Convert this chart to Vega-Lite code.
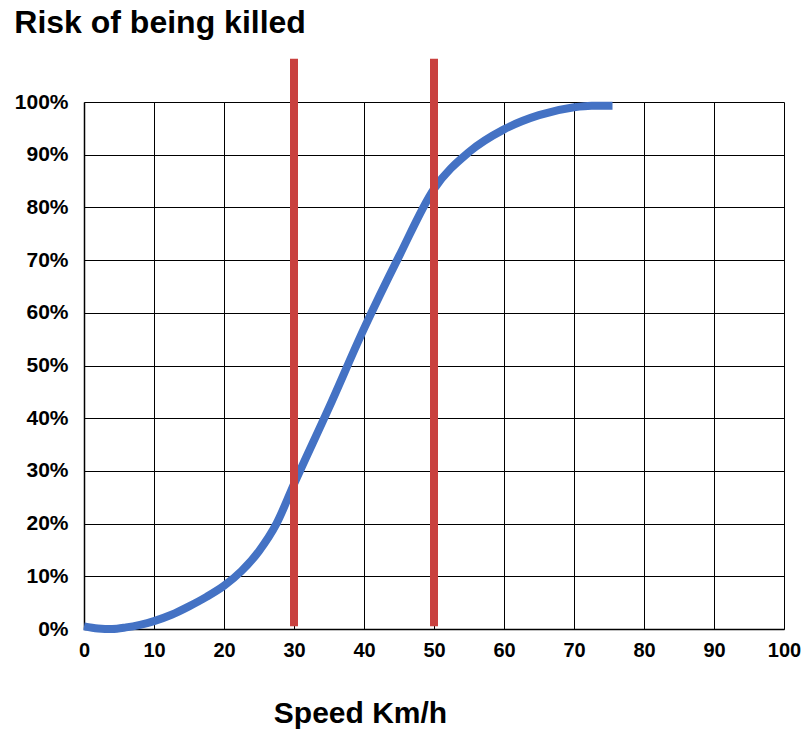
{
  "$schema": "https://vega.github.io/schema/vega-lite/v6.json",
  "width": 700,
  "height": 527,
  "autosize": {"type": "none"},
  "padding": {"left": 84, "top": 102, "right": 22, "bottom": 102},
  "background": "white",
  "title": {
    "text": "Risk of being killed",
    "anchor": "start",
    "frame": "bounds",
    "font": "Liberation Sans",
    "fontSize": 32,
    "fontWeight": "bold",
    "color": "black",
    "offset": 15
  },
  "config": {
    "view": {"stroke": null},
    "axis": {
      "labelFont": "Liberation Sans",
      "labelFontWeight": "bold",
      "labelColor": "black",
      "domainColor": "black",
      "domainWidth": 1.5,
      "gridColor": "black",
      "gridWidth": 1,
      "gridOpacity": 1,
      "ticks": false,
      "titleFont": "Liberation Sans",
      "titleFontWeight": "bold",
      "titleColor": "black"
    }
  },
  "layer": [
    {
      "data": {
        "values": [
          {"speed": 0, "risk": 0.005},
          {"speed": 2, "risk": 0.001},
          {"speed": 4, "risk": 0.0},
          {"speed": 6, "risk": 0.003},
          {"speed": 8, "risk": 0.008},
          {"speed": 10, "risk": 0.015},
          {"speed": 12.5, "risk": 0.027},
          {"speed": 15, "risk": 0.043},
          {"speed": 17.5, "risk": 0.061},
          {"speed": 20, "risk": 0.082},
          {"speed": 22.5, "risk": 0.11},
          {"speed": 25, "risk": 0.148},
          {"speed": 27.5, "risk": 0.2},
          {"speed": 30, "risk": 0.275},
          {"speed": 35, "risk": 0.42},
          {"speed": 40, "risk": 0.57},
          {"speed": 45, "risk": 0.707},
          {"speed": 50, "risk": 0.835},
          {"speed": 55, "risk": 0.905},
          {"speed": 60, "risk": 0.948},
          {"speed": 65, "risk": 0.975},
          {"speed": 70, "risk": 0.99},
          {"speed": 72.5, "risk": 0.993},
          {"speed": 75.5, "risk": 0.993}
        ]
      },
      "mark": {"type": "line", "color": "#4472C4", "strokeWidth": 8, "interpolate": "monotone", "strokeCap": "butt", "clip": false},
      "encoding": {
        "x": {
          "field": "speed",
          "type": "quantitative",
          "scale": {"domain": [0, 100], "nice": false},
          "axis": {
            "values": [0, 10, 20, 30, 40, 50, 60, 70, 80, 90, 100],
            "grid": true,
            "labelFlush": false,
            "labelFontSize": 20,
            "labelPadding": 11,
            "title": "Speed Km/h",
            "titleFontSize": 30,
            "titlePadding": 38,
            "titleX": 276,
            "titleAlign": "center",
            "titleAnchor": null
          }
        },
        "y": {
          "field": "risk",
          "type": "quantitative",
          "scale": {"domain": [0, 1], "nice": false},
          "axis": {
            "values": [0, 0.1, 0.2, 0.3, 0.4, 0.5, 0.6, 0.7, 0.8, 0.9, 1],
            "format": ".0%",
            "grid": true,
            "labelFlush": false,
            "labelFontSize": 21,
            "labelPadding": 16,
            "title": null
          }
        }
      }
    },
    {
      "data": {"values": [{"limit": 30}, {"limit": 50}]},
      "mark": {"type": "rule", "color": "#C9413F", "strokeWidth": 8, "clip": false},
      "encoding": {
        "x": {"field": "limit", "type": "quantitative"},
        "y": {"datum": 0.005},
        "y2": {"datum": 1.082}
      }
    }
  ]
}
